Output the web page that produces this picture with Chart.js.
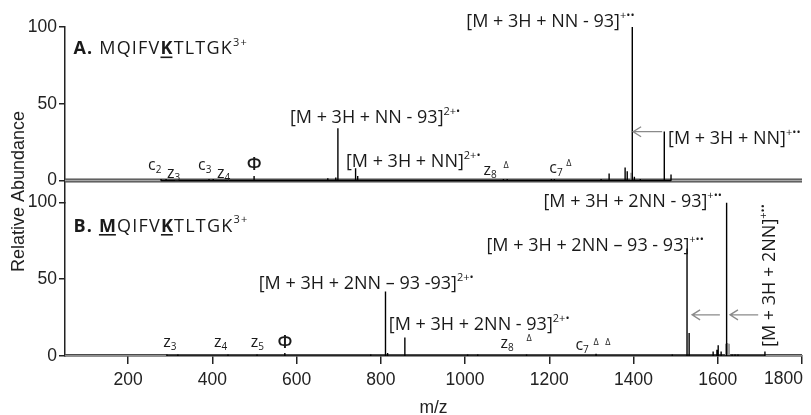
<!DOCTYPE html>
<html>
<head>
<meta charset="utf-8">
<script src="https://cdn.jsdelivr.net/npm/chart.js@4.4.1/dist/chart.umd.min.js"></script>
<style>
  html, body { margin: 0; padding: 0; background: #fff; }
  #wrap { width: 811px; height: 415px; position: relative; }
</style>
</head>
<body>
<div id="wrap"><canvas id="spec"></canvas></div>
<script>
// panel A: MQIFVKTLTGK 3+  (m/z, relative abundance)
const mzA  = [278, 290, 392, 402, 499, 674, 693, 698, 740, 745, 1091, 1100, 1205, 1212, 1323, 1342, 1380, 1385, 1397, 1402, 1416, 1473, 1489];
const intA = [1, 1, 1, 1, 3, 1.5, 2, 34, 8, 3, 1, 1, 1, 1, 1, 4.5, 8.5, 6, 100, 2.5, 1, 32, 4];
const mzAgray  = [1394];
const intAgray = [5];

// panel B: MQIFVKTLTGK 3+ (two NN)
const mzB  = [292, 318, 437, 506, 572, 776, 811, 816, 857, 1006, 1030, 1146, 1311, 1492, 1527, 1532, 1589, 1598, 1601, 1608, 1621, 1634, 1641, 1648, 1712];
const intB = [1, 1, 1, 1, 2, 1, 42, 2, 12, 1, 1, 1, 1.5, 1, 70, 15, 3, 4, 7, 3, 100, 1, 1, 1, 3];
const mzBgray  = [1619, 1623, 1627];
const intBgray = [8, 8.5, 8];

const xTicks = [200, 400, 600, 800, 1000, 1200, 1400, 1600, 1800];
const yTicks = [0, 50, 100];

// text labels, placed in data units (m/z, abundance)
const labelsA = [
  { x: 70, y: 85.7, size: 18, spacing: 1.2, parts: [['A.', 'b'], [' MQIFV', 'n'], ['K', 'bu'], ['TLTGK', 'n'], ['3+', 'sup']] },
  { x: 1003, y: 103.3, parts: [['[M + 3H + NN - 93]', 'n'], ['+••', 'sup']] },
  { x: 1482, y: 27, parts: [['[M + 3H + NN]', 'n'], ['+••', 'sup']] },
  { x: 584, y: 40.7, parts: [['[M + 3H + NN - 93]', 'n'], ['2+•', 'sup']] },
  { x: 717, y: 12.1, parts: [['[M + 3H + NN]', 'n'], ['2+•', 'sup']] },
  { x: 247, y: 10.1, size: 16, parts: [['c', 'n'], ['2', 'sub']] },
  { x: 292, y: 4.9, size: 16, parts: [['z', 'n'], ['3', 'sub']] },
  { x: 366, y: 10.1, size: 16, parts: [['c', 'n'], ['3', 'sub']] },
  { x: 411, y: 4.9, size: 16, parts: [['z', 'n'], ['4', 'sub']] },
  { x: 499, y: 10.4, size: 18, align: 'center', parts: [['Φ', 'phi']] },
  { x: 1044, y: 6.8, size: 16, parts: [['z', 'n'], ['8', 'sub']] },
  { x: 1091, y: 10.1, size: 9, parts: [['Δ', 'n']] },
  { x: 1200, y: 8.1, size: 16, parts: [['c', 'n'], ['7', 'sub']] },
  { x: 1240, y: 11.4, size: 9, parts: [['Δ', 'n']] }
];
const labelsB = [
  { x: 70, y: 84.4, size: 18, spacing: 1.2, parts: [['B.', 'b'], [' ', 'n'], ['M', 'bu'], ['QIFV', 'n'], ['K', 'bu'], ['TLTGK', 'n'], ['3+', 'sup']] },
  { x: 1186, y: 100.3, parts: [['[M + 3H + 2NN - 93]', 'n'], ['+••', 'sup']] },
  { x: 1567, y: 71.7, align: 'right', parts: [['[M + 3H + 2NN – 93 - 93]', 'n'], ['+••', 'sup']] },
  { x: 510, y: 46.9, parts: [['[M + 3H + 2NN – 93 -93]', 'n'], ['2+•', 'sup']] },
  { x: 819, y: 20.2, parts: [['[M + 3H + 2NN - 93]', 'n'], ['2+•', 'sup']] },
  { x: 1724, y: 5.9, rot: true, parts: [['[M + 3H + 2NN]', 'n'], ['+••', 'sup']] },
  { x: 283, y: 9.1, size: 16, parts: [['z', 'n'], ['3', 'sub']] },
  { x: 404, y: 9.1, size: 16, parts: [['z', 'n'], ['4', 'sub']] },
  { x: 491, y: 9.1, size: 16, parts: [['z', 'n'], ['5', 'sub']] },
  { x: 572, y: 8.5, size: 18, align: 'center', parts: [['Φ', 'phi']] },
  { x: 1084, y: 8.5, size: 16, parts: [['z', 'n'], ['8', 'sub']] },
  { x: 1146, y: 11.7, size: 9, parts: [['Δ', 'n']] },
  { x: 1262, y: 7.2, size: 16, parts: [['c', 'n'], ['7', 'sub']] },
  { x: 1305, y: 9.1, size: 9, parts: [['Δ', 'n']] },
  { x: 1333, y: 9.1, size: 9, parts: [['Δ', 'n']] }
];

// arrows: [from m/z, to m/z (head), abundance]
const arrowsA = [[1468, 1399, 31.8]];
const arrowsB = [[1605, 1539, 26.8], [1696, 1629, 26.8]];

const textFam = '"Open Sans", "Noto Sans", sans-serif';
const axisFam = '"Liberation Sans", Arial, sans-serif';

function sticks(mz, ints) {
  const pts = [];
  mz.forEach((m, i) => {
    pts.push({ x: m, y: 0 }, { x: m, y: ints[i] }, { x: m, y: 0 });
  });
  return pts;
}

function fontFor(style, size) {
  if (style === 'sup' || style === 'sub') return `${Math.round(size * 0.62)}px ${textFam}`;
  if (style === 'b' || style === 'bu') return `bold ${size}px ${textFam}`;
  if (style === 'phi') return `600 ${size}px ${textFam}`;
  return `${size}px ${textFam}`;
}

function drawRich(ctx, parts, x, y, size, align, spacing) {
  ctx.letterSpacing = (spacing || 0) + 'px';
  let total = 0;
  const widths = parts.map(([t, st]) => {
    ctx.font = fontFor(st, size);
    const w = ctx.measureText(t).width;
    total += w;
    return w;
  });
  let cx = align === 'right' ? x - total : align === 'center' ? x - total / 2 : x;
  ctx.textAlign = 'left';
  parts.forEach(([t, st], i) => {
    ctx.font = fontFor(st, size);
    const dy = st === 'sup' ? -size * 0.36 : st === 'sub' ? size * 0.3 : 0;
    ctx.fillText(t, cx, y + dy);
    if (st === 'bu') {
      ctx.fillRect(cx, y + size * 0.42, widths[i] - (spacing || 0), 1.6);
    }
    cx += widths[i];
  });
  ctx.letterSpacing = '0px';
}

function drawArrow(ctx, x1, x2, y) {
  ctx.beginPath();
  ctx.moveTo(x1, y);
  ctx.lineTo(x2, y);
  ctx.moveTo(x2 + 8, y - 5);
  ctx.lineTo(x2, y);
  ctx.lineTo(x2 + 8, y + 5);
  ctx.stroke();
}

const annotate = {
  id: 'annotate',
  afterDraw(chart) {
    const ctx = chart.ctx;
    const xs = chart.scales.x;
    ctx.save();
    ctx.fillStyle = '#1a1a1a';
    ctx.textBaseline = 'middle';
    [['yA', labelsA, arrowsA], ['yB', labelsB, arrowsB]].forEach(([id, list, arrows]) => {
      const ys = chart.scales[id];
      list.forEach(l => {
        const px = xs.getPixelForValue(l.x);
        const py = ys.getPixelForValue(l.y);
        const size = l.size || 18;
        if (l.rot) {
          ctx.save();
          ctx.translate(px, py);
          ctx.rotate(-Math.PI / 2);
          drawRich(ctx, l.parts, 0, 0, size, 'left');
          ctx.restore();
        } else {
          drawRich(ctx, l.parts, px, py, size, l.align, l.spacing);
        }
      });
      ctx.strokeStyle = '#8a8a8a';
      ctx.lineWidth = 1.3;
      arrows.forEach(a => drawArrow(ctx, xs.getPixelForValue(a[0]), xs.getPixelForValue(a[1]), ys.getPixelForValue(a[2])));
    });

    // shared y title
    const area = chart.chartArea;
    ctx.save();
    ctx.font = `18px ${axisFam}`;
    ctx.fillStyle = '#222';
    ctx.textAlign = 'center';
    ctx.translate(19, (area.top + area.bottom) / 2);
    ctx.rotate(-Math.PI / 2);
    ctx.fillText('Relative Abundance', 0, 0);
    ctx.restore();

    // last x label kept inside the figure
    ctx.font = `17.5px ${axisFam}`;
    ctx.fillStyle = '#222';
    ctx.textAlign = 'right';
    ctx.textBaseline = 'top';
    ctx.fillText('1800', xs.getPixelForValue(1800) + 1, area.bottom + 14);
    ctx.restore();
  }
};

const tickFont = { family: axisFam, size: 17.5 };

function yAxis(min, weight) {
  return {
    type: 'linear',
    position: 'left',
    stack: 'spec',
    stackWeight: weight,
    min: min,
    max: 100,
    border: { color: '#222', width: 1.5 },
    grid: { drawOnChartArea: false, color: '#222', tickLength: 6, lineWidth: 1.5 },
    ticks: { font: tickFont, color: '#222', padding: 2 },
    afterBuildTicks: s => { s.ticks = yTicks.map(v => ({ value: v })); },
    afterFit: s => { s.width = 57; s.paddingTop = 0; s.paddingBottom = 0; }
  };
}

const lineStyle = { pointRadius: 0, borderJoinStyle: 'bevel', tension: 0, fill: false };
const baseline = [{ x: 50, y: 0 }, { x: 1800, y: 0 }];

new Chart(document.getElementById('spec'), {
  type: 'line',
  data: {
    datasets: [
      { ...lineStyle, data: sticks(mzA, intA), yAxisID: 'yA', borderColor: '#000', borderWidth: 1.4 },
      { ...lineStyle, data: sticks(mzAgray, intAgray), yAxisID: 'yA', borderColor: '#9a9a9a', borderWidth: 1.4 },
      { ...lineStyle, data: sticks(mzB, intB), yAxisID: 'yB', borderColor: '#000', borderWidth: 1.4 },
      { ...lineStyle, data: sticks(mzBgray, intBgray), yAxisID: 'yB', borderColor: '#9a9a9a', borderWidth: 1.6 },
      { ...lineStyle, data: baseline, yAxisID: 'yA', borderColor: '#a8a8a8', borderWidth: 1.5 },
      { ...lineStyle, data: baseline, yAxisID: 'yA', borderColor: '#4a4a4a', borderWidth: 4 },
      { ...lineStyle, data: baseline, yAxisID: 'yB', borderColor: '#a8a8a8', borderWidth: 1.5 },
      { ...lineStyle, data: baseline, yAxisID: 'yB', borderColor: '#4a4a4a', borderWidth: 4 }
    ]
  },
  options: {
    responsive: true,
    maintainAspectRatio: false,
    animation: false,
    layout: { padding: { top: 27, left: 8, right: 9, bottom: 0 } },
    plugins: { legend: { display: false }, tooltip: { enabled: false } },
    scales: {
      x: {
        type: 'linear',
        min: 50,
        max: 1800,
        position: 'bottom',
        border: { color: '#222', width: 1.5 },
        grid: { drawOnChartArea: false, color: '#222', tickLength: 8, lineWidth: 1.5 },
        ticks: { font: tickFont, color: '#222', padding: 6, maxRotation: 0, autoSkip: false,
                 callback: v => (v === 1800 ? '' : v) },
        afterBuildTicks: s => { s.ticks = xTicks.map(v => ({ value: v })); },
        afterFit: s => { s.paddingLeft = 0; s.paddingRight = 0; s.height = 59; },
        title: { display: true, text: 'm/z', color: '#222', font: { family: axisFam, size: 17.5, lineHeight: 1 }, padding: { top: 0, bottom: -2 } }
      },
      yB: yAxis(0, 100),
      yA: yAxis(-14.3, 114.3)
    }
  },
  plugins: [annotate]
});
</script>
</body>
</html>
